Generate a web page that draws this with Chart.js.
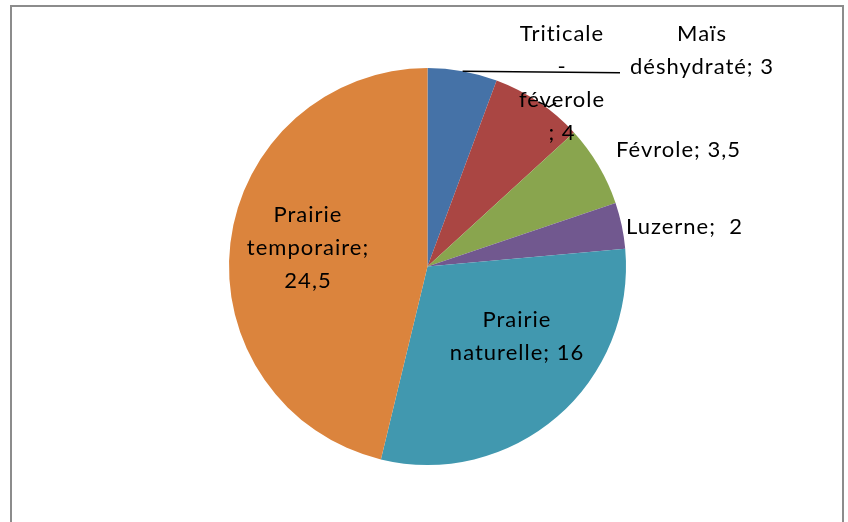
<!DOCTYPE html>
<html>
<head>
<meta charset="utf-8">
<script src="https://cdn.jsdelivr.net/npm/chart.js@4.4.0/dist/chart.umd.min.js"></script>
<style>
html,body{margin:0;padding:0;background:#fff;}
#wrap{width:848px;height:522px;position:relative;}
</style>
</head>
<body>
<div id="wrap"><canvas id="c" width="848" height="522"></canvas></div>
<script>
const categories = ["Maïs déshydraté", "Triticale - féverole", "Févrole", "Luzerne", "Prairie naturelle", "Prairie temporaire"];
const values = [3, 4, 3.5, 2, 16, 24.5];
const valueLabels = ["3", "4", "3,5", "2", "16", "24,5"];
const colors = ["#4572A7", "#AA4643", "#89A54E", "#71588F", "#4198AF", "#DB843D"];

// label layout (line breaks and offsets from pie centre), styling only
const labelLines = [
  (c, v) => ["Maïs", "déshydraté; " + v],
  (c, v) => ["Triticale", "-", "féverole", "; " + v],
  (c, v) => [c + "; " + v],
  (c, v) => [c + ";  " + v],
  (c, v) => ["Prairie", "naturelle; " + v],
  (c, v) => ["Prairie", "temporaire;", v]
];
const labelOffsets = [[274.5, -216.5], [134.5, -183.5], [251, -116.5], [257, -39.5], [89.5, 69.5], [-119.5, -18.5]];
const leaders = [[[620, 72.7]], [[549, 107], [556, 103]], null, null, null, null];

const labelPlugin = {
  id: 'pieLabels',
  beforeDraw(chart) {
    const ctx = chart.ctx;
    ctx.save();
    ctx.strokeStyle = '#8c8c8c';
    ctx.lineWidth = 2;
    ctx.beginPath();
    ctx.moveTo(11, 530);
    ctx.lineTo(11, 6);
    ctx.lineTo(843, 6);
    ctx.lineTo(843, 530);
    ctx.stroke();
    ctx.restore();
  },
  afterDatasetsDraw(chart) {
    const ctx = chart.ctx;
    const meta = chart.getDatasetMeta(0);
    ctx.save();
    ctx.font = '22px Lato, "Open Sans", sans-serif';
    ctx.letterSpacing = '1px';
    ctx.fillStyle = '#000';
    ctx.textAlign = 'center';
    ctx.textBaseline = 'middle';
    const lh = 33;
    meta.data.forEach((arc, i) => {
      const cx = arc.x, cy = arc.y;
      const mid = (arc.startAngle + arc.endAngle) / 2;
      if (leaders[i]) {
        ctx.strokeStyle = '#000';
        ctx.lineWidth = 1.5;
        ctx.beginPath();
        ctx.moveTo(cx + arc.outerRadius * Math.cos(mid), cy + arc.outerRadius * Math.sin(mid));
        leaders[i].forEach(p => ctx.lineTo(p[0], p[1]));
        ctx.stroke();
      }
      const lines = labelLines[i](categories[i], valueLabels[i]);
      const lx = cx + labelOffsets[i][0];
      const ly = cy + labelOffsets[i][1];
      const y0 = ly - (lines.length - 1) * lh / 2;
      lines.forEach((t, k) => ctx.fillText(t, lx, y0 + k * lh));
    });
    ctx.restore();
  }
};

new Chart(document.getElementById('c'), {
  type: 'pie',
  data: {
    labels: categories,
    datasets: [{
      data: values,
      backgroundColor: colors,
      borderWidth: 0
    }]
  },
  options: {
    responsive: false,
    animation: false,
    layout: { padding: { left: 229, right: 222, top: 68, bottom: 57 } },
    plugins: { legend: { display: false }, tooltip: { enabled: false } }
  },
  plugins: [labelPlugin]
});
</script>
</body>
</html>
